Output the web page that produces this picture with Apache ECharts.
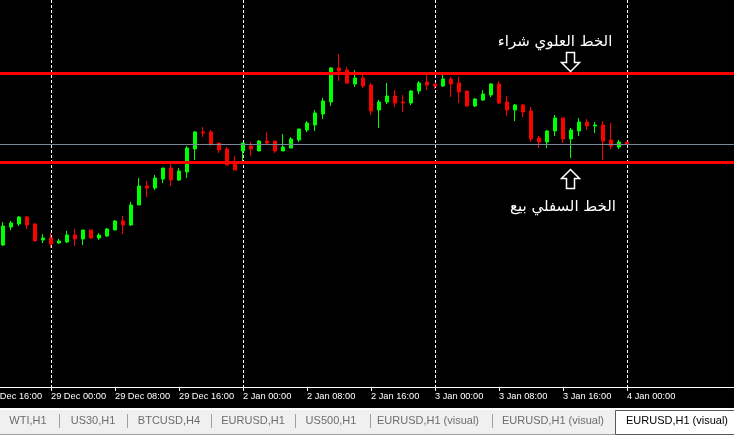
<!DOCTYPE html>
<html>
<head>
<meta charset="utf-8">
<script src="https://cdn.jsdelivr.net/npm/echarts@6/dist/echarts.min.js"></script>
<style>
  html, body { margin: 0; padding: 0; background: #000; }
  #main { width: 734px; height: 444px; }
</style>
</head>
<body>
<div id="main"></div>
<script>
// EURUSD H1 - hourly bars from 28 Dec 18:00 to 4 Jan 00:00
var days = ['28 Dec', '29 Dec', '2 Jan', '3 Jan', '4 Jan']
var firstLabel = '28 Dec 16:00'
var slotCount = 95
var firstBar = '28 Dec 18:00'

var opens = [1.1855, 1.1873, 1.1876, 1.1883, 1.1876, 1.1860, 1.1862, 1.1857, 1.1858, 1.1865,
  1.1861, 1.1870, 1.1862, 1.1864, 1.1870, 1.1879, 1.1875, 1.1895, 1.1914, 1.1912,
  1.1921, 1.1932, 1.1920, 1.1928, 1.1951, 1.1968, 1.1968, 1.1957, 1.1951, 1.1938,
  1.1949, 1.1954, 1.1949, 1.1959, 1.1959, 1.1949, 1.1952, 1.1960, 1.1970, 1.1975,
  1.1986, 1.1998, 1.2032, 1.2030, 1.2016, 1.2022, 1.2015, 1.1990, 1.1998, 1.2004,
  1.1998, 1.1997, 1.2009, 1.2018, 1.2016, 1.2014, 1.2021, 1.2017, 1.2009, 1.1994,
  1.2000, 1.2005, 1.2016, 1.1998, 1.1990, 1.1995, 1.1989, 1.1962, 1.1958, 1.1969,
  1.1982, 1.1961, 1.1969, 1.1978, 1.1974, 1.1975, 1.1960, 1.1953, 1.1958]
var closes = [1.1874, 1.1877, 1.1883, 1.1875, 1.1859, 1.1862, 1.1856, 1.1859, 1.1865, 1.1861,
  1.1870, 1.1862, 1.1865, 1.1871, 1.1879, 1.1875, 1.1895, 1.1914, 1.1912, 1.1922,
  1.1932, 1.1920, 1.1929, 1.1952, 1.1968, 1.1967, 1.1956, 1.1950, 1.1935, 1.1930,
  1.1957, 1.1951, 1.1959, 1.1957, 1.1949, 1.1953, 1.1961, 1.1971, 1.1977, 1.1987,
  1.1999, 1.2032, 1.2029, 1.2017, 1.2022, 1.2014, 1.1989, 1.1998, 1.2004, 1.1997,
  1.1997, 1.2009, 1.2017, 1.2015, 1.2014, 1.2021, 1.2016, 1.2008, 1.1994, 1.2001,
  1.2006, 1.2016, 1.1997, 1.1990, 1.1995, 1.1988, 1.1961, 1.1958, 1.1969, 1.1982,
  1.1961, 1.1970, 1.1978, 1.1974, 1.1975, 1.1959, 1.1954, 1.1958, 1.1956]
var lows = [1.1854, 1.1870, 1.1874, 1.1871, 1.1859, 1.1857, 1.1852, 1.1856, 1.1857, 1.1854,
  1.1855, 1.1861, 1.1860, 1.1863, 1.1870, 1.1866, 1.1874, 1.1895, 1.1903, 1.1910,
  1.1917, 1.1914, 1.1919, 1.1922, 1.1940, 1.1963, 1.1954, 1.1947, 1.1935, 1.1930,
  1.1938, 1.1944, 1.1949, 1.1956, 1.1947, 1.1949, 1.1952, 1.1958, 1.1968, 1.1969,
  1.1981, 1.1994, 1.2019, 1.2016, 1.2013, 1.2012, 1.1985, 1.1972, 1.1996, 1.1993,
  1.1988, 1.1995, 1.2006, 1.2010, 1.2011, 1.2013, 1.2003, 1.1997, 1.1993, 1.1993,
  1.1999, 1.2003, 1.1996, 1.1984, 1.1979, 1.1983, 1.1958, 1.1952, 1.1952, 1.1964,
  1.1957, 1.1942, 1.1964, 1.1970, 1.1967, 1.1940, 1.1951, 1.1951, 1.1956]
var highs = [1.1878, 1.1879, 1.1884, 1.1884, 1.1877, 1.1866, 1.1867, 1.1861, 1.1869, 1.1871,
  1.1870, 1.1870, 1.1867, 1.1872, 1.1880, 1.1884, 1.1898, 1.1922, 1.1919, 1.1925,
  1.1932, 1.1936, 1.1932, 1.1954, 1.1969, 1.1973, 1.1970, 1.1957, 1.1953, 1.1944,
  1.1957, 1.1958, 1.1960, 1.1968, 1.1959, 1.1966, 1.1963, 1.1971, 1.1979, 1.1990,
  1.2002, 1.2033, 1.2046, 1.2033, 1.2030, 1.2026, 1.2017, 1.2000, 1.2017, 1.2010,
  1.2005, 1.2010, 1.2019, 1.2025, 1.2016, 1.2026, 1.2023, 1.2023, 1.2009, 1.2002,
  1.2010, 1.2017, 1.2019, 1.2004, 1.1996, 1.1996, 1.1993, 1.1964, 1.1970, 1.1985,
  1.1982, 1.1972, 1.1982, 1.1981, 1.1978, 1.1979, 1.1977, 1.1960, 1.1958]

var upperLine = 1.20265 // buy line
var lowerLine = 1.19375 // sell line
var bidLine = closes[closes.length - 1]

var notes = [
  {text: 'الخط العلوي شراء', time: '3 Jan 15:00', price: 1.2058},
  {text: 'الخط السفلي بيع', time: '3 Jan 16:00', price: 1.1893}
]
var arrows = [
  {dir: 'down', time: '3 Jan 17:00', price: 1.2029},
  {dir: 'up', time: '3 Jan 17:00', price: 1.1931}
]

var tabs = ['WTI,H1', 'US30,H1', 'BTCUSD,H4', 'EURUSD,H1', 'US500,H1', 'EURUSD,H1 (visual)', 'EURUSD,H1 (visual)', 'EURUSD,H1 (visual)']
var tabCenters = [28, 93, 169, 253, 331, 428, 553, 677]
var tabSeps = [59, 127, 211, 295, 370, 492]

// hourly categories
var allHours = []
days.forEach(function (d) {
  for (var h = 0; h < 24; h++) {
    allHours.push(d + ' ' + (h < 10 ? '0' + h : h) + ':00')
  }
})
var start = allHours.indexOf(firstLabel)
var cats = allHours.slice(start, start + slotCount)
var pad = cats.indexOf(firstBar)
var lastBar = pad + opens.length - 1

var ohlc = []
for (var i = 0; i < pad; i++) ohlc.push('-')
for (var j = 0; j < opens.length; j++) {
  ohlc.push([opens[j], closes[j], lows[j], highs[j]])
}

var showTick = function (index) { return index % 8 === 0 && index <= lastBar }

var chart = echarts.init(document.getElementById('main'))
var option = {
  backgroundColor: '#000',
  animation: false,
  grid: {left: -13, width: 8 * (slotCount - 1), top: 0, height: 387, containLabel: false, outerBoundsMode: 'none'},
  xAxis: {
    type: 'category',
    data: cats,
    boundaryGap: false,
    axisLine: {lineStyle: {color: '#ffffff', width: 1}},
    axisTick: {interval: showTick, length: 4, lineStyle: {color: '#ffffff'}},
    axisLabel: {
      interval: showTick,
      align: 'left',
      margin: 5,
      color: '#ffffff',
      fontSize: 9.25,
      fontFamily: 'Liberation Sans, Arial, sans-serif'
    },
    splitLine: {
      show: true,
      interval: function (index) { return index % 24 === 8 },
      lineStyle: {color: '#ffffff', width: 1, type: [3, 2]}
    }
  },
  yAxis: {
    type: 'value',
    min: 1.1713,
    max: 1.2100,
    show: false,
    splitLine: {show: false}
  },
  series: [
    {
      type: 'candlestick',
      data: ohlc,
      barWidth: 4,
      itemStyle: {
        color: '#00ff00',
        color0: '#ff0000',
        borderColor: '#00ff00',
        borderColor0: '#ff0000',
        borderWidth: 1
      },
      markLine: {
        silent: true,
        symbol: 'none',
        precision: 5,
        label: {show: false},
        data: [
          {yAxis: bidLine, lineStyle: {color: '#778899', width: 1, type: 'solid'}},
          {yAxis: upperLine, lineStyle: {color: '#ff0000', width: 3, type: 'solid'}},
          {yAxis: lowerLine, lineStyle: {color: '#ff0000', width: 3, type: 'solid'}}
        ]
      }
    }
  ]
}
chart.setOption(option)

// annotations + terminal tab bar
var px = function (time, price) {
  return chart.convertToPixel({gridIndex: 0}, [cats.indexOf(time), price])
}
var elements = []
notes.forEach(function (n) {
  var p = px(n.time, n.price)
  elements.push({
    type: 'text', x: p[0], y: p[1], z: 100,
    style: {text: n.text, fill: '#ffffff', font: '15px "DejaVu Sans"', align: 'center', verticalAlign: 'middle'}
  })
})
arrows.forEach(function (a) {
  var p = px(a.time, a.price)
  var x = Math.round(p[0]) - 0.5
  var y = Math.round(p[1]) + 0.5
  var s = a.dir === 'down' ? -1 : 1
  elements.push({
    type: 'polygon', z: 100,
    shape: {points: [[x, y], [x + 9, y + 9 * s], [x + 4, y + 9 * s], [x + 4, y + 19 * s],
      [x - 4, y + 19 * s], [x - 4, y + 9 * s], [x - 9, y + 9 * s]]},
    style: {fill: '#000000', stroke: '#ffffff', lineWidth: 1.5}
  })
})
elements.push({type: 'rect', shape: {x: 0, y: 408, width: 734, height: 2}, style: {fill: '#ffffff'}, z: 90})
elements.push({type: 'rect', shape: {x: 0, y: 410, width: 734, height: 24}, style: {fill: '#f0f0f0'}, z: 90})
elements.push({type: 'rect', shape: {x: 0, y: 434, width: 734, height: 1}, style: {fill: '#a0a0a0'}, z: 90})
elements.push({type: 'rect', shape: {x: 0, y: 435, width: 734, height: 9}, style: {fill: '#ffffff'}, z: 90})
elements.push({type: 'rect', shape: {x: 615.5, y: 410.5, width: 130, height: 24}, style: {fill: '#ffffff', stroke: '#5a5a5a', lineWidth: 1}, z: 91})
tabSeps.forEach(function (sx) {
  elements.push({type: 'rect', shape: {x: sx, y: 414, width: 1, height: 14}, style: {fill: '#a0a0a0'}, z: 91})
})
tabs.forEach(function (t, k) {
  elements.push({
    type: 'text', x: tabCenters[k], y: 421, z: 92,
    style: {text: t, fill: k === tabs.length - 1 ? '#000000' : '#6d6d6d', font: '11px "Liberation Sans"', align: 'center', verticalAlign: 'middle'}
  })
})
chart.setOption({graphic: {elements: elements}})
</script>
</body>
</html>
